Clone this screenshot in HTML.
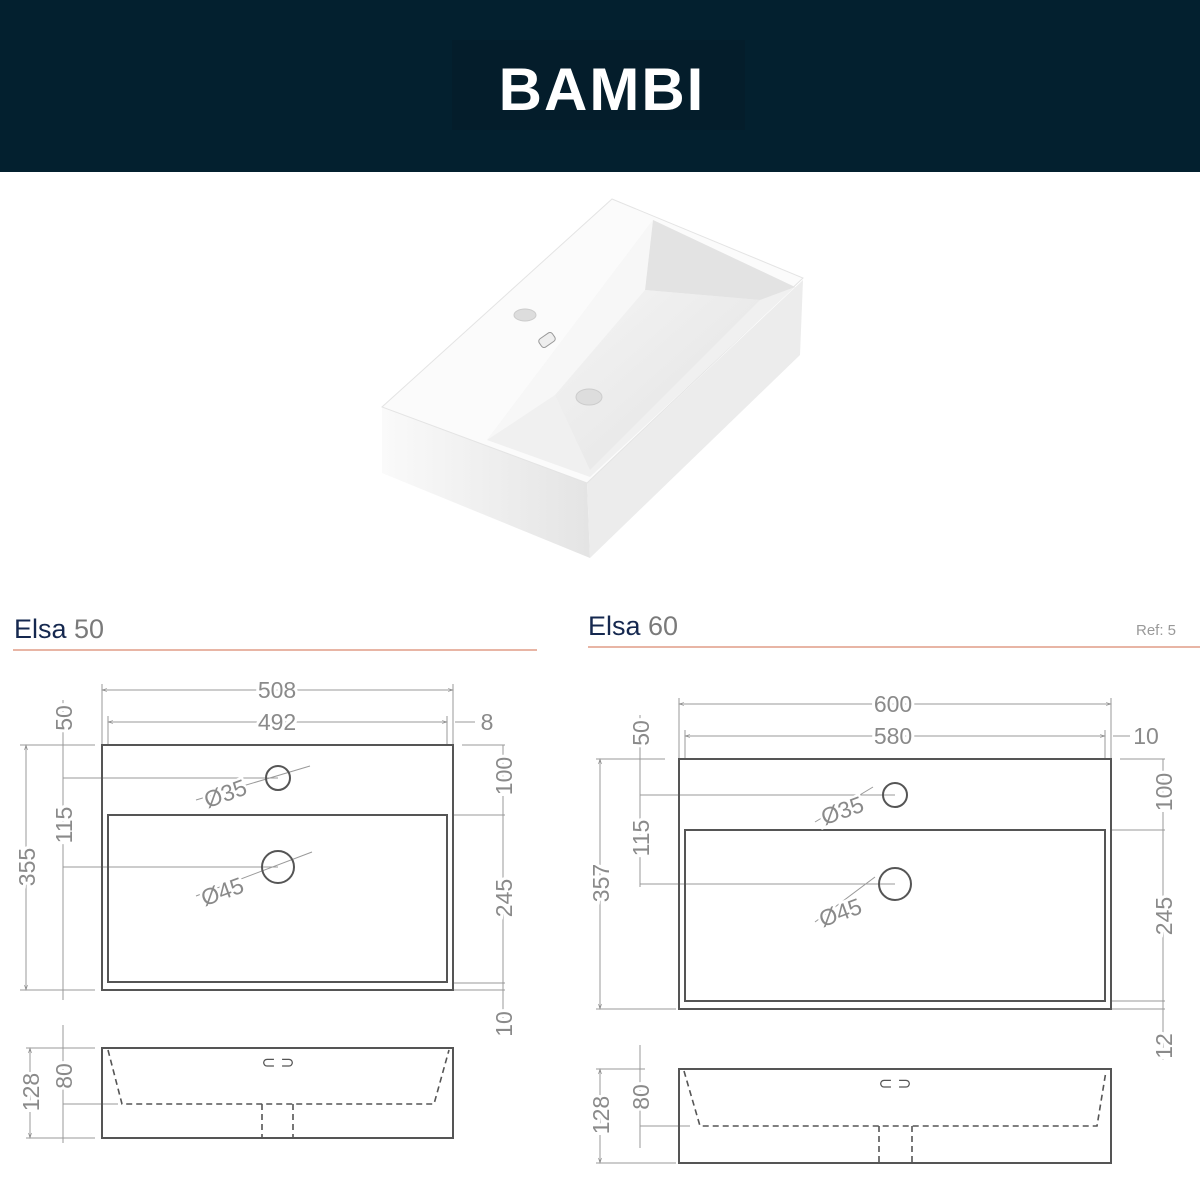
<!DOCTYPE html>
<html><head><meta charset="utf-8"><style>
html,body{margin:0;padding:0;background:#fff}
svg{display:block}
</style></head><body>
<svg width="1200" height="1200" viewBox="0 0 1200 1200" xmlns="http://www.w3.org/2000/svg" font-family="Liberation Sans, Arial, sans-serif">
<defs>
<marker id="a" viewBox="0 0 10 10" refX="10" refY="5" markerWidth="7" markerHeight="5" orient="auto-start-reverse"><path d="M0,2 L10,5 L0,8" fill="none" stroke="#888" stroke-width="1.2"/></marker>
<linearGradient id="g1" x1="0" y1="0" x2="1" y2="1"><stop offset="0" stop-color="#f4f4f4"/><stop offset="1" stop-color="#e2e2e2"/></linearGradient>
<linearGradient id="g2" x1="0" y1="0" x2="1" y2="0"><stop offset="0" stop-color="#fafafa"/><stop offset="1" stop-color="#e4e4e4"/></linearGradient>
</defs>
<rect x="0" y="0" width="1200" height="172" fill="#03202f"/>
<rect x="452" y="40" width="293" height="90" fill="#041d2b"/>
<text x="602" y="110" text-anchor="middle" fill="#fff" font-size="60" font-weight="bold" letter-spacing="2">BAMBI</text>

<!-- sink -->
<polygon points="382,407 587,483 590,558 382,473" fill="url(#g2)"/>
<polygon points="587,483 803,280 800,355 590,558" fill="#ececec"/>
<polygon points="612,199 803,278 587,483 382,407" fill="#fbfbfb" stroke="#e4e4e4" stroke-width="1"/>
<polygon points="653,220 795,287 590,477 487,440" fill="#f0f0f0"/>
<polygon points="653,220 795,287 760,300 645,290" fill="#e3e3e3"/>
<polygon points="645,290 760,300 590,470 555,395" fill="url(#g1)"/>
<polygon points="653,220 645,290 555,395 487,440" fill="#f7f7f7"/>
<ellipse cx="525" cy="315" rx="11" ry="6" fill="#ddd" stroke="#ccc"/>
<rect x="539" y="335" width="16" height="10" rx="3" transform="rotate(-35 547 340)" fill="#eee" stroke="#999"/>
<ellipse cx="589" cy="397" rx="13" ry="8" fill="#ddd" stroke="#ccc"/>

<!-- titles -->
<text x="14" y="638" font-size="27" fill="#15284f">Elsa <tspan fill="#7a7a7a">50</tspan></text>
<rect x="13" y="649" width="524" height="2" fill="#e8b5a5"/>
<text x="588" y="635" font-size="27" fill="#15284f">Elsa <tspan fill="#7a7a7a">60</tspan></text>
<rect x="588" y="646" width="612" height="2" fill="#e8b5a5"/>
<text x="1136" y="635" font-size="15" fill="#999">Ref: 5</text>

<g fill="none" stroke="#999" stroke-width="1">
<!-- LEFT -->
<line x1="102" y1="690" x2="453" y2="690" marker-start="url(#a)" marker-end="url(#a)"/>
<line x1="102" y1="684" x2="102" y2="745"/><line x1="453" y1="684" x2="453" y2="745"/>
<line x1="108" y1="722" x2="447" y2="722" marker-start="url(#a)" marker-end="url(#a)"/>
<line x1="108" y1="716" x2="108" y2="745"/><line x1="447" y1="716" x2="447" y2="745"/>
<line x1="455" y1="722" x2="475" y2="722"/>
<line x1="26" y1="745" x2="26" y2="990" marker-start="url(#a)" marker-end="url(#a)"/>
<line x1="20" y1="745" x2="95" y2="745"/><line x1="20" y1="990" x2="95" y2="990"/>
<line x1="63" y1="700" x2="63" y2="1000"/>
<line x1="63" y1="778" x2="278" y2="778"/><line x1="63" y1="867" x2="278" y2="867"/>
<line x1="503" y1="745" x2="503" y2="1035"/>
<line x1="462" y1="745" x2="505" y2="745"/><line x1="453" y1="815" x2="505" y2="815"/>
<line x1="453" y1="983" x2="505" y2="983"/><line x1="453" y1="990" x2="505" y2="990"/>
<line x1="30" y1="1048" x2="30" y2="1138" marker-start="url(#a)" marker-end="url(#a)"/>
<line x1="26" y1="1048" x2="95" y2="1048"/><line x1="26" y1="1138" x2="95" y2="1138"/>
<line x1="63" y1="1025" x2="63" y2="1143"/><line x1="63" y1="1104" x2="118" y2="1104"/>
<line x1="196" y1="896" x2="312" y2="852"/><line x1="196" y1="800" x2="310" y2="766"/>
<!-- RIGHT -->
<line x1="679" y1="704" x2="1111" y2="704" marker-start="url(#a)" marker-end="url(#a)"/>
<line x1="679" y1="698" x2="679" y2="759"/><line x1="1111" y1="698" x2="1111" y2="759"/>
<line x1="685" y1="736" x2="1105" y2="736" marker-start="url(#a)" marker-end="url(#a)"/>
<line x1="685" y1="730" x2="685" y2="759"/><line x1="1105" y1="730" x2="1105" y2="759"/>
<line x1="1113" y1="736" x2="1130" y2="736"/>
<line x1="600" y1="759" x2="600" y2="1009" marker-start="url(#a)" marker-end="url(#a)"/>
<line x1="596" y1="759" x2="665" y2="759"/><line x1="596" y1="1009" x2="676" y2="1009"/>
<line x1="640" y1="715" x2="640" y2="887"/>
<line x1="640" y1="795" x2="895" y2="795"/><line x1="640" y1="884" x2="895" y2="884"/>
<line x1="1163" y1="759" x2="1163" y2="1060"/>
<line x1="1120" y1="759" x2="1165" y2="759"/><line x1="1111" y1="830" x2="1165" y2="830"/>
<line x1="1111" y1="1001" x2="1165" y2="1001"/><line x1="1111" y1="1009" x2="1165" y2="1009"/>
<line x1="600" y1="1069" x2="600" y2="1163" marker-start="url(#a)" marker-end="url(#a)"/>
<line x1="596" y1="1069" x2="645" y2="1069"/><line x1="596" y1="1163" x2="676" y2="1163"/>
<line x1="640" y1="1045" x2="640" y2="1148"/><line x1="640" y1="1126" x2="690" y2="1126"/>
<line x1="815" y1="922" x2="875" y2="877"/><line x1="815" y1="822" x2="873" y2="787"/>
</g>

<g fill="none" stroke="#555" stroke-width="2">
<rect x="102" y="745" width="351" height="245"/>
<rect x="108" y="815" width="339" height="167"/>
<circle cx="278" cy="778" r="12"/><circle cx="278" cy="867" r="16"/>
<rect x="102" y="1048" width="351" height="90"/>
<rect x="679" y="759" width="432" height="250"/>
<rect x="685" y="830" width="420" height="171"/>
<circle cx="895" cy="795" r="12"/><circle cx="895" cy="884" r="16"/>
<rect x="679" y="1069" width="432" height="94"/>
</g>
<g fill="none" stroke="#555" stroke-width="1.6" stroke-dasharray="6,4">
<polyline points="108,1050 122,1104 434,1104 449,1050"/>
<line x1="262" y1="1104" x2="262" y2="1138"/><line x1="293" y1="1104" x2="293" y2="1138"/>
<polyline points="684,1071 700,1126 1097,1126 1106,1071"/>
<line x1="879" y1="1126" x2="879" y2="1163"/><line x1="912" y1="1126" x2="912" y2="1163"/>
</g>
<text x="278" y="1068" font-size="17" fill="#555" text-anchor="middle">⊂ ⊃</text>
<text x="895" y="1089" font-size="17" fill="#555" text-anchor="middle">⊂ ⊃</text>

<g fill="#8a8a8a" font-size="23" text-anchor="middle">
<text x="277" y="698" style="paint-order:stroke" stroke="#fff" stroke-width="6">508</text>
<text x="277" y="730" style="paint-order:stroke" stroke="#fff" stroke-width="6">492</text>
<text x="487" y="730">8</text>
<text transform="translate(72,718) rotate(-90)" style="paint-order:stroke" stroke="#fff" stroke-width="6">50</text>
<text transform="translate(72,825) rotate(-90)" style="paint-order:stroke" stroke="#fff" stroke-width="6">115</text>
<text transform="translate(35,867) rotate(-90)" style="paint-order:stroke" stroke="#fff" stroke-width="6">355</text>
<text transform="translate(512,776) rotate(-90)" style="paint-order:stroke" stroke="#fff" stroke-width="6">100</text>
<text transform="translate(512,898) rotate(-90)" style="paint-order:stroke" stroke="#fff" stroke-width="6">245</text>
<text transform="translate(512,1024) rotate(-90)" style="paint-order:stroke" stroke="#fff" stroke-width="6">10</text>
<text transform="translate(39,1092) rotate(-90)" style="paint-order:stroke" stroke="#fff" stroke-width="6">128</text>
<text transform="translate(72,1076) rotate(-90)" style="paint-order:stroke" stroke="#fff" stroke-width="6">80</text>
<text transform="translate(228,801) rotate(-20)" style="paint-order:stroke" stroke="#fff" stroke-width="5">Ø35</text>
<text transform="translate(225,899) rotate(-20)" style="paint-order:stroke" stroke="#fff" stroke-width="5">Ø45</text>

<text x="893" y="712" style="paint-order:stroke" stroke="#fff" stroke-width="6">600</text>
<text x="893" y="744" style="paint-order:stroke" stroke="#fff" stroke-width="6">580</text>
<text x="1146" y="744">10</text>
<text transform="translate(649,733) rotate(-90)" style="paint-order:stroke" stroke="#fff" stroke-width="6">50</text>
<text transform="translate(649,838) rotate(-90)" style="paint-order:stroke" stroke="#fff" stroke-width="6">115</text>
<text transform="translate(609,883) rotate(-90)" style="paint-order:stroke" stroke="#fff" stroke-width="6">357</text>
<text transform="translate(1172,792) rotate(-90)" style="paint-order:stroke" stroke="#fff" stroke-width="6">100</text>
<text transform="translate(1172,916) rotate(-90)" style="paint-order:stroke" stroke="#fff" stroke-width="6">245</text>
<text transform="translate(1172,1046) rotate(-90)" style="paint-order:stroke" stroke="#fff" stroke-width="6">12</text>
<text transform="translate(609,1115) rotate(-90)" style="paint-order:stroke" stroke="#fff" stroke-width="6">128</text>
<text transform="translate(649,1097) rotate(-90)" style="paint-order:stroke" stroke="#fff" stroke-width="6">80</text>
<text transform="translate(845,818) rotate(-20)" style="paint-order:stroke" stroke="#fff" stroke-width="5">Ø35</text>
<text transform="translate(843,920) rotate(-20)" style="paint-order:stroke" stroke="#fff" stroke-width="5">Ø45</text>
</g>
</svg>
</body></html>
